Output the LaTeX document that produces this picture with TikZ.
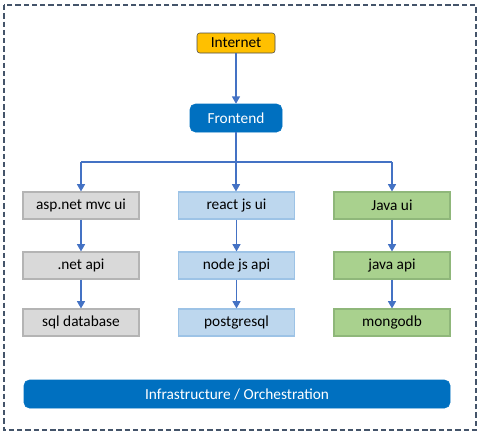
\documentclass[tikz,border=0pt]{standalone}
\usepackage{fontspec}
\setmainfont{Carlito}
\usetikzlibrary{arrows.meta,positioning}
\definecolor{arrowc}{HTML}{4472C4}
\definecolor{frameC}{HTML}{44546A}
\definecolor{inetC}{HTML}{FFC000}
\definecolor{blueC}{HTML}{0070C0}
\definecolor{grayF}{HTML}{D9D9D9}
\definecolor{grayD}{HTML}{B4B4B4}
\definecolor{lblueF}{HTML}{BDD7EE}
\definecolor{lblueD}{HTML}{9DC3E6}
\definecolor{greenF}{HTML}{A9D18E}
\definecolor{greenD}{HTML}{8FB77A}
\tikzset{
  conn/.style={draw=arrowc, line width=1pt, -{Triangle[width=6pt,length=5.5pt]}},
  plainconn/.style={draw=arrowc, line width=1pt},
  txt/.style={font=\fontsize{11.5}{13}\selectfont},
  boxbase/.style={txt, minimum width=87pt, minimum height=20.25pt, inner sep=0pt, line width=0.8pt},
  graybox/.style={boxbase, fill=grayF, draw=grayD},
  bluebox/.style={boxbase, fill=lblueF, draw=lblueD},
  greenbox/.style={boxbase, fill=greenF, draw=greenD},
  bluebar/.style={txt, fill=blueC, draw=blueC, rounded corners=4pt, minimum height=21pt, inner sep=0pt, text=white},
}
\begin{document}
\begin{tikzpicture}[x=0.75pt,y=-0.75pt]
\useasboundingbox (0,0) rectangle (482,437);
\draw[frameC, line width=1.5pt, dash pattern=on 4pt off 2.2pt] (4,5) rectangle (476,430);
\node[txt, fill=inetC, draw=black!70, rounded corners=2pt, minimum width=58.5pt, minimum height=15pt, inner sep=0pt] (inet) at (236,43) {Internet};
\node[bluebar, minimum width=69pt] (front) at (236,118) {Frontend};
\node[graybox] (asp) at (81,205.5) {asp.net mvc ui};
\node[graybox] (netapi) at (81,265.5) {.net api};
\node[graybox] (sql) at (81,322.5) {sql database};
\node[bluebox] (react) at (236.5,205.5) {react js ui};
\node[bluebox] (nodeapi) at (236.5,265.5) {node js api};
\node[bluebox] (pg) at (236.5,322.5) {postgresql};
\node[greenbox] (javaui) at (392,205.5) {Java ui};
\node[greenbox] (javaapi) at (392,265.5) {java api};
\node[greenbox] (mongo) at (392,322.5) {mongodb};
\node[bluebar, minimum width=319.5pt] (infra) at (237,394) {Infrastructure / Orchestration};
\coordinate (branch) at (236,162);
\draw[conn] (inet) -- (front);
\draw[conn] (front.south) -- (react.north -| front.south);
\draw[plainconn] (branch) -- (branch -| asp.north);
\draw[plainconn] (branch) -- (branch -| javaui.north);
\draw[conn] (branch -| asp.north) -- (asp.north);
\draw[conn] (branch -| javaui.north) -- (javaui.north);
\draw[conn] (asp) -- (netapi);
\draw[conn] (netapi) -- (sql);
\draw[conn] (react) -- (nodeapi);
\draw[conn] (nodeapi) -- (pg);
\draw[conn] (javaui) -- (javaapi);
\draw[conn] (javaapi) -- (mongo);
\end{tikzpicture}
\end{document}
